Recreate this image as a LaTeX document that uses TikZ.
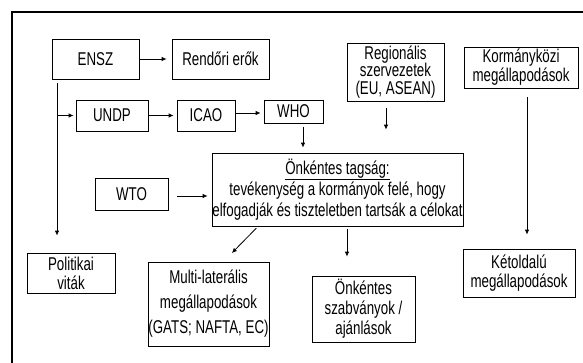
\documentclass[tikz,border=0pt]{standalone}
\usepackage{fontspec}
\setmainfont{Liberation Sans}[FakeStretch=0.72]
\usetikzlibrary{arrows.meta}
\begin{document}
\begin{tikzpicture}[x=1pt,y=-1pt,
  box/.style={draw,line width=0.8pt,inner sep=0pt,align=center,font=\fontsize{18.5}{20}\selectfont},
  arr/.style={line width=0.8pt,-{Latex[length=5pt,width=4.5pt]}},
  frame/.style={line width=1.2pt}]
\useasboundingbox (0,0) rectangle (583,362);
\draw[frame] (12,366) -- (12,12) -- (587,12);

\node[box,minimum width=87pt,minimum height=40pt] (ensz) at (95.5,59) {ENSZ};
\node[box,minimum width=97pt,minimum height=40pt] (rend) at (220.5,59) {Rendőri erők};
\node[box,minimum width=97pt,minimum height=58pt,font=\fontsize{18.5}{17.5}\selectfont] (regio) at (395.5,72) {Regionális\\szervezetek\\(EU, ASEAN)};
\node[box,minimum width=114pt,minimum height=41pt,font=\fontsize{18.5}{19}\selectfont] (korm) at (521,67.5) {Kormányközi\\megállapodások};
\node[box,minimum width=72pt,minimum height=31pt] (undp) at (112,115.5) {UNDP};
\node[box,minimum width=58pt,minimum height=31pt] (icao) at (206,115.5) {ICAO};
\node[box,minimum width=59pt,minimum height=23pt] (who) at (293.5,111.5) {WHO};
\node[box,minimum width=251pt,minimum height=73pt,font=\fontsize{18.5}{21}\selectfont] (onk) at (337.5,189.5) {\underline{Önkéntes tagság:}\\tevékenység a kormányok felé, hogy\\elfogadják és tiszteletben tartsák a célokat};
\node[box,minimum width=73pt,minimum height=32pt] (wto) at (131.5,194) {WTO};
\node[box,minimum width=88pt,minimum height=40pt,font=\fontsize{18.5}{19}\selectfont] (pol) at (71,273) {Politikai\\viták};
\node[box,minimum width=121pt,minimum height=84pt,font=\fontsize{18.5}{25}\selectfont] (multi) at (208.5,304) {Multi-laterális\\megállapodások\\(GATS; NAFTA, EC)};
\node[box,minimum width=103pt,minimum height=66pt,font=\fontsize{18.5}{20}\selectfont] (szab) at (363.5,309) {Önkéntes\\szabványok /\\ajánlások};
\node[box,minimum width=112pt,minimum height=48pt,font=\fontsize{18.5}{19}\selectfont] (ket) at (519,273) {Kétoldalú\\megállapodások};

\draw[arr,shorten >=5pt] (ensz.east) -- (rend.west);
\draw[arr,shorten <=4pt,shorten >=17pt] (ensz.south -| 57,0) -- (pol.north -| 57,0);
\draw[arr,shorten >=2pt] (undp.west -| 57,0) -- (undp.west);
\draw[arr,shorten >=3pt] (undp.east) -- (icao.west);
\draw[arr,shorten >=3pt] (icao.east |- 0,113) -- (who.west |- 0,113);
\draw[arr,shorten <=4pt,shorten >=5pt] (who.south -| 303,0) -- (onk.north -| 303,0);
\draw[arr,shorten <=7pt,shorten >=23pt] (regio.south -| 386,0) -- (onk.north -| 386,0);
\draw[arr,shorten <=9pt,shorten >=14pt] (korm.south -| 527,0) -- (ket.north -| 527,0);
\draw[arr,shorten <=9pt,shorten >=4pt] (wto.east |- 0,196) -- (onk.west |- 0,196);
\draw[arr,shorten <=2.5pt,shorten >=12pt] (onk.south -| 258,0) -- (multi.north -| 223.5,0);
\draw[arr,shorten <=3pt,shorten >=19pt] (onk.south -| 347,0) -- (szab.north -| 347,0);
\end{tikzpicture}
\end{document}
